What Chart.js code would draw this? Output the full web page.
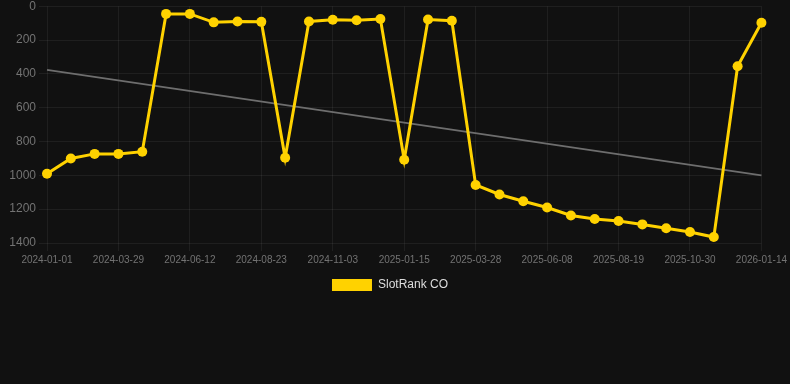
<!DOCTYPE html>
<html>
<head>
<meta charset="utf-8">
<script src="https://cdn.jsdelivr.net/npm/chart.js@4"></script>
<style>
  html, body { margin: 0; padding: 0; background: #111111; }
  #wrap { width: 790px; height: 301px; position: relative; }
</style>
</head>
<body>
<div id="wrap"><canvas id="myChart"></canvas></div>
<script>
// dates of each rank snapshot (only every third one is labelled)
const dates = [
  "2024-01-01", "2024-01-30", "2024-02-28", "2024-03-29", "2024-04-23", "2024-05-18",
  "2024-06-12", "2024-07-06", "2024-07-30", "2024-08-23", "2024-09-17", "2024-10-10",
  "2024-11-03", "2024-11-27", "2024-12-21", "2025-01-15", "2025-02-07", "2025-03-04",
  "2025-03-28", "2025-04-18", "2025-05-14", "2025-06-08", "2025-07-02", "2025-07-26",
  "2025-08-19", "2025-09-13", "2025-10-06", "2025-10-30", "2025-11-23", "2025-12-19",
  "2026-01-14"
];
const rank = [
  990, 900, 873, 873, 860, 45, 45, 95, 90, 92,
  896, 90, 80, 83, 75, 908, 78, 85, 1057, 1113,
  1153, 1190, 1237, 1258, 1270, 1290, 1313, 1335, 1365, 355,
  97
];
// trend line end points
const trendStart = 376;
const trendEnd = 1000;

const trend = dates.map((d, i) => (i === 0 ? trendStart : i === dates.length - 1 ? trendEnd : null));

const font = "Arial, 'Liberation Sans', sans-serif";

const ctx = document.getElementById("myChart").getContext("2d");
const myChart = new Chart(ctx, {
  type: "line",
  data: {
    labels: dates,
    datasets: [
      {
        label: "SlotRank CO",
        data: rank,
        borderColor: "#ffd200",
        backgroundColor: "#ffd200",
        borderWidth: 3,
        pointRadius: 5,
        pointHoverRadius: 6,
        pointBackgroundColor: "#ffd200",
        pointBorderWidth: 0,
        tension: 0,
      },
      {
        label: "trend",
        data: trend,
        borderColor: "#6e6e6e",
        borderWidth: 2,
        pointRadius: 0,
        spanGaps: true,
        tension: 0,
      },
    ],
  },
  options: {
    responsive: true,
    maintainAspectRatio: false,
    animation: false,
    plugins: {
      legend: {
        position: "bottom",
        labels: {
          color: "#dddddd",
          font: { size: 12, family: font },
          filter: (item) => item.text.trim() !== "trend",
          generateLabels: (chart) =>
            Chart.defaults.plugins.legend.labels.generateLabels(chart).map((l) => {
              l.lineWidth = 0;
              l.text = l.text + "   "; // nudges the centred legend a little left
              return l;
            }),
        },
      },
      tooltip: { enabled: false },
    },
    scales: {
      x: {
        grid: { color: "rgba(255,255,255,0.06)" },
        border: { display: false },
        ticks: {
          autoSkip: false,
          maxRotation: 0,
          color: "#737373",
          font: { size: 10, family: font },
          callback: function (value, index) {
            return index % 3 === 0 ? this.getLabelForValue(value) : null;
          },
        },
      },
      y: {
        reverse: true,
        min: 0,
        max: 1400,
        afterFit: (scale) => { scale.width = 47; },
        grid: { color: "rgba(255,255,255,0.06)" },
        border: { display: false },
        ticks: {
          stepSize: 200,
          color: "#737373",
          font: { size: 12, family: font, lineHeight: 0.55 },
          callback: (v) => String(v),
        },
      },
    },
  },
});
</script>
</body>
</html>
